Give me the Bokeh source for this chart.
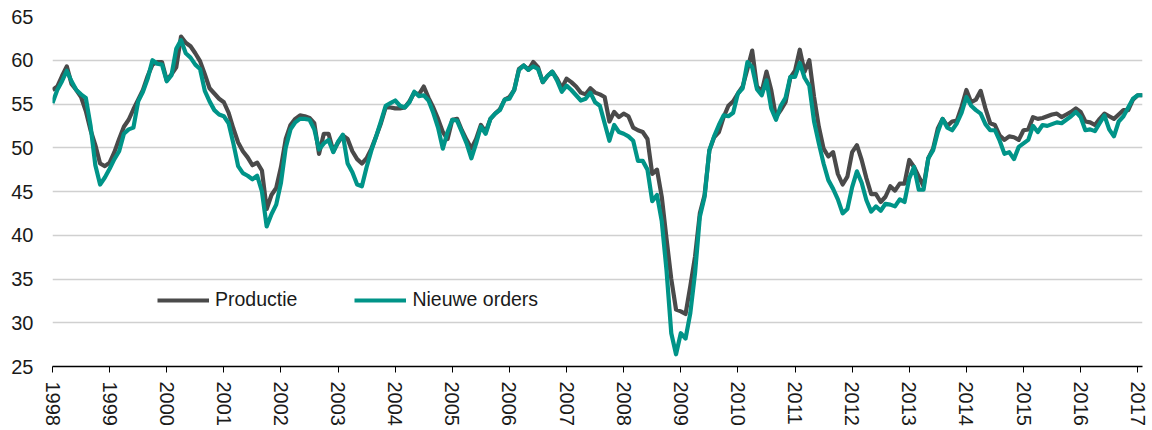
from bokeh.plotting import figure
from bokeh.models import Range1d, FixedTicker, Legend, LegendItem
from bokeh.embed import file_html
from bokeh.resources import INLINE

years = list(range(1998, 2018))
y_ticks = [25, 30, 35, 40, 45, 50, 55, 60, 65]

# Monthly values, Jan 1998 .. Feb 2017
productie = [
    56.6, 57.0, 58.2, 59.3, 57.3, 56.6, 55.8, 54.2, 52.0, 50.3, 48.2, 47.9,  # 1998
    48.3, 49.5, 51.0, 52.4, 53.2, 54.4, 55.5, 56.6, 58.2, 59.5, 59.8, 59.8,  # 1999
    57.7, 58.4, 59.2, 62.7, 62.0, 61.6, 60.8, 59.9, 58.4, 56.8, 56.2, 55.6,  # 2000
    55.2, 54.0, 52.2, 50.6, 49.6, 48.9, 48.0, 48.3, 47.4, 43.0, 44.6, 45.4,  # 2001
    47.8, 51.0, 52.6, 53.3, 53.7, 53.6, 53.4, 52.8, 49.3, 51.6, 51.6, 49.6,  # 2002
    50.6, 51.4, 51.0, 49.6, 48.7, 48.2, 48.8, 49.9, 51.3, 52.8, 54.6, 54.6,  # 2003
    54.5, 54.5, 54.6, 55.3, 56.3, 56.1, 57.0, 55.7, 54.6, 53.3, 51.8, 51.0,  # 2004
    53.2, 53.3, 52.0, 50.9, 49.9, 51.0, 52.6, 51.8, 53.3, 53.9, 54.4, 55.5,  # 2005
    55.8, 56.6, 59.0, 59.4, 58.9, 59.8, 59.2, 57.5, 58.2, 58.7, 57.9, 56.8,  # 2006
    57.9, 57.5, 57.0, 56.3, 56.1, 56.8, 56.3, 56.1, 55.8, 53.0, 54.1, 53.5,  # 2007
    53.9, 53.6, 52.3, 52.0, 51.8, 51.0, 47.0, 47.5, 44.4, 39.6, 35.0, 31.5,  # 2008
    31.3, 31.0, 34.2, 37.6, 42.5, 44.6, 49.7, 51.2, 51.8, 53.5, 54.8, 55.3,  # 2009
    56.2, 57.0, 59.0, 61.1, 57.0, 56.4, 58.7, 56.6, 53.5, 54.3, 55.2, 58.0,  # 2010
    58.8, 61.2, 58.7, 60.0, 55.8, 52.4, 49.9, 49.0, 49.5, 47.0, 45.8, 46.7,  # 2011
    49.5, 50.3, 48.6, 46.5, 44.7, 44.7, 43.8, 44.4, 45.6, 45.1, 45.9, 45.9,  # 2012
    48.6, 47.8, 46.7, 45.6, 48.8, 49.9, 52.2, 53.3, 52.5, 53.0, 53.1, 54.7,  # 2013
    56.6, 55.2, 55.5, 56.5, 54.5, 52.8, 52.6, 51.4, 50.9, 51.3, 51.2, 50.9,  # 2014
    52.0, 52.1, 53.5, 53.3, 53.4, 53.6, 53.8, 53.9, 53.5, 53.8, 54.1, 54.5,  # 2015
    54.1, 53.0, 52.9, 52.6, 53.3, 53.9, 53.6, 53.3, 53.8, 54.3, 54.3, 55.5,  # 2016
    56.0, 56.0,                                                              # 2017
]

nieuwe_orders = [
    55.1, 56.6, 57.6, 58.8, 57.6, 56.6, 56.1, 55.7, 52.5, 48.0, 45.8, 46.6,  # 1998
    47.6, 48.7, 49.6, 51.6, 52.1, 52.3, 55.3, 56.4, 57.9, 60.0, 59.6, 59.5,  # 1999
    57.6, 58.3, 61.3, 62.3, 60.8, 60.3, 59.5, 59.0, 56.5, 55.3, 54.3, 53.8,  # 2000
    53.6, 52.8, 50.5, 47.9, 47.1, 46.8, 46.4, 46.8, 45.0, 41.0, 42.4, 43.5,  # 2001
    46.0, 50.0, 52.1, 52.9, 53.3, 53.3, 53.2, 52.1, 49.8, 50.5, 50.9, 49.5,  # 2002
    50.7, 51.5, 48.2, 47.2, 45.8, 45.6, 47.8, 49.7, 51.3, 53.0, 54.8, 55.1,  # 2003
    55.4, 54.8, 54.6, 55.2, 56.4, 55.9, 56.0, 55.4, 54.0, 52.3, 49.9, 51.8,  # 2004
    53.2, 53.1, 51.8, 50.5, 48.8, 50.5, 52.4, 51.6, 53.3, 53.9, 54.3, 55.5,  # 2005
    55.6, 56.6, 58.9, 59.4, 58.9, 59.3, 59.0, 57.5, 58.2, 58.7, 57.7, 56.4,  # 2006
    57.1, 56.6, 56.0, 55.4, 55.6, 56.3, 55.2, 54.8, 52.8, 50.8, 52.6, 51.8,  # 2007
    51.6, 51.3, 50.8, 48.5, 48.5, 47.5, 43.9, 44.6, 41.6, 36.0, 28.8, 26.4,  # 2008
    28.8, 28.2, 31.1, 35.7, 42.1, 44.4, 49.7, 51.3, 52.6, 53.7, 53.6, 54.0,  # 2009
    56.2, 56.8, 59.8, 59.2, 56.7, 56.0, 57.7, 54.5, 53.2, 54.8, 55.7, 58.1,  # 2010
    58.1, 59.7, 58.0, 57.1, 53.0, 50.5, 48.2, 46.3, 45.3, 44.1, 42.5, 43.0,  # 2011
    45.5, 47.3, 46.0, 44.0, 42.7, 43.3, 42.8, 43.6, 43.5, 43.3, 44.1, 43.8,  # 2012
    46.5, 47.8, 45.2, 45.2, 48.8, 49.7, 51.8, 53.3, 52.3, 52.0, 52.8, 54.0,  # 2013
    55.8, 54.8, 54.3, 53.9, 52.7, 52.0, 52.0, 50.8, 49.3, 49.5, 48.7, 50.1,  # 2014
    50.5, 50.9, 52.5, 51.8, 52.6, 52.5, 52.7, 52.9, 52.8, 53.2, 53.6, 54.1,  # 2015
    53.5, 52.0, 52.1, 51.9, 52.8, 53.7, 52.1, 51.3, 53.0, 53.6, 54.6, 55.6,  # 2016
    56.0, 56.0,                                                              # 2017
]

x = [1998 + i / 12 for i in range(len(productie))]

FONT = "Liberation Sans"
GRAY = "#4A4A4A"
TEAL = "#009488"

p = figure(width=1150, height=428, output_backend="svg", toolbar_location=None,
           x_range=Range1d(1998, x[-1]), y_range=Range1d(25, 65),
           min_border_left=52, min_border_right=8, min_border_top=16, min_border_bottom=61)
p.outline_line_color = None
p.background_fill_color = "white"

r1 = p.line(x, productie, line_color=GRAY, line_width=4.2, line_join="round")
r2 = p.line(x, nieuwe_orders, line_color=TEAL, line_width=4.2, line_join="round")

# x axis
p.xaxis.ticker = FixedTicker(ticks=years, minor_ticks=[])
p.xaxis.major_label_overrides = {yr: str(yr) for yr in years}
p.xaxis.major_label_orientation = "vertical"
p.xaxis.axis_line_color = "black"
p.xaxis.axis_line_width = 1.3
p.xaxis.major_tick_out = 6
p.xaxis.major_tick_in = 0
p.xaxis.major_tick_line_color = "black"
p.xaxis.minor_tick_line_color = None
p.xaxis.major_label_standoff = 9
p.xaxis.major_label_text_font = FONT
p.xaxis.major_label_text_font_size = "20px"
p.xaxis.major_label_text_color = "#1a1a1a"
p.xgrid.grid_line_color = None

# y axis
p.yaxis.ticker = FixedTicker(ticks=y_ticks, minor_ticks=[])
p.yaxis.axis_line_color = None
p.yaxis.major_tick_line_color = None
p.yaxis.minor_tick_line_color = None
p.yaxis.major_tick_out = 0
p.yaxis.major_tick_in = 0
p.yaxis.major_label_standoff = 19
p.yaxis.major_label_text_font = FONT
p.yaxis.major_label_text_font_size = "20px"
p.yaxis.major_label_text_color = "#1a1a1a"
p.ygrid.grid_line_color = "#D0D0D0"
p.ygrid.grid_line_width = 1.3

legend = Legend(items=[LegendItem(label="Productie", renderers=[r1]),
                       LegendItem(label="Nieuwe orders", renderers=[r2])],
                location=(105, 55), orientation="horizontal",
                glyph_width=52, glyph_height=20, label_standoff=6, spacing=57,
                padding=0, margin=0, border_line_color=None, background_fill_alpha=0,
                label_text_font=FONT, label_text_font_size="19.5px", label_text_color="#1a1a1a")
p.add_layout(legend)

open("out.html", "w").write(file_html(p, INLINE))
